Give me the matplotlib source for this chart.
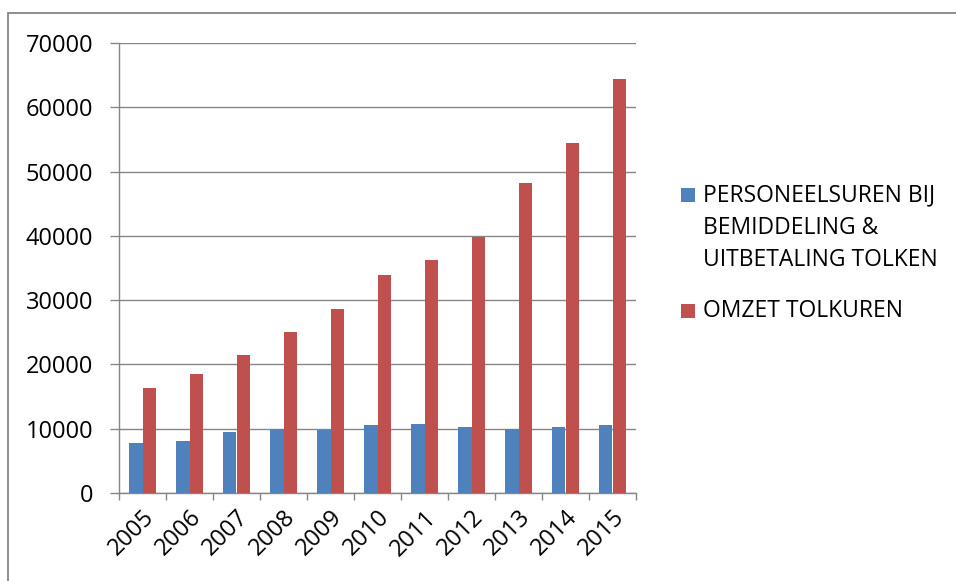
import matplotlib.pyplot as plt
import numpy as np
from matplotlib.patches import Rectangle

jaren = ['2005', '2006', '2007', '2008', '2009', '2010', '2011', '2012', '2013', '2014', '2015']
personeelsuren = [7800, 8150, 9450, 9900, 9850, 10550, 10800, 10250, 9900, 10250, 10600]
omzet_tolkuren = [16350, 18500, 21450, 25050, 28600, 33900, 36250, 39800, 48200, 54400, 64400]
reeksen = ['PERSONEELSUREN BIJ\nBEMIDDELING &\nUITBETALING TOLKEN', 'OMZET TOLKUREN']

blauw = '#4f81bd'
rood = '#c0504d'
grijs = '#868686'

plt.rcParams['font.family'] = ['Open Sans', 'DejaVu Sans']

W, H = 956, 581
fig = plt.figure(figsize=(W / 100, H / 100), dpi=100)

def px(x, y):
    # pixel (vanaf linksboven) naar figuurcoordinaten
    return x / W, 1 - y / H

# kader rond de grafiek
fig.patches.append(Rectangle(px(8, H + 20), 1.2, (H + 20 - 13) / H, transform=fig.transFigure,
                             fill=False, edgecolor=grijs, linewidth=1.3))

ax = fig.add_axes([119 / W, 1 - 493 / H, (636 - 119) / W, 450 / H])
x = np.arange(len(jaren))
w = 0.28
ax.bar(x - w / 2, personeelsuren, w, color=blauw, zorder=3)
ax.bar(x + w / 2, omzet_tolkuren, w, color=rood, zorder=3)

ax.set_xlim(-0.5, len(jaren) - 0.5)
ax.set_ylim(0, 70000)
ax.set_yticks(range(0, 70001, 10000))
ax.yaxis.grid(True, color=grijs, linewidth=1)
ax.set_axisbelow(True)

ax.set_xticks(x)
ax.set_xticklabels(jaren, rotation=45, ha='right', rotation_mode='anchor', fontsize=17)
ax.set_xticks(np.arange(-0.5, len(jaren)), minor=True)
ax.tick_params(axis='x', which='major', length=0, pad=9)
ax.tick_params(axis='x', which='minor', length=5, color=grijs, width=1)
ax.tick_params(axis='y', length=6.5, color=grijs, width=1, labelsize=17, pad=12)

for side in ['top', 'right']:
    ax.spines[side].set_visible(False)
for side in ['left', 'bottom']:
    ax.spines[side].set_color(grijs)
    ax.spines[side].set_linewidth(1)

# legenda: gekleurd vierkantje bij de eerste regel van elk label
legenda_y = [195, 311]
for label, kleur, y0 in zip(reeksen, [blauw, rood], legenda_y):
    fig.patches.append(Rectangle(px(681, y0 + 7), 14 / W, 14 / H, transform=fig.transFigure,
                                 facecolor=kleur, edgecolor='none'))
    for i, regel in enumerate(label.split('\n')):
        fig.text(*px(703, y0 + i * 32.5), regel, fontsize=16.5, va='center', ha='left')

plt.savefig('out.png', dpi=100)
